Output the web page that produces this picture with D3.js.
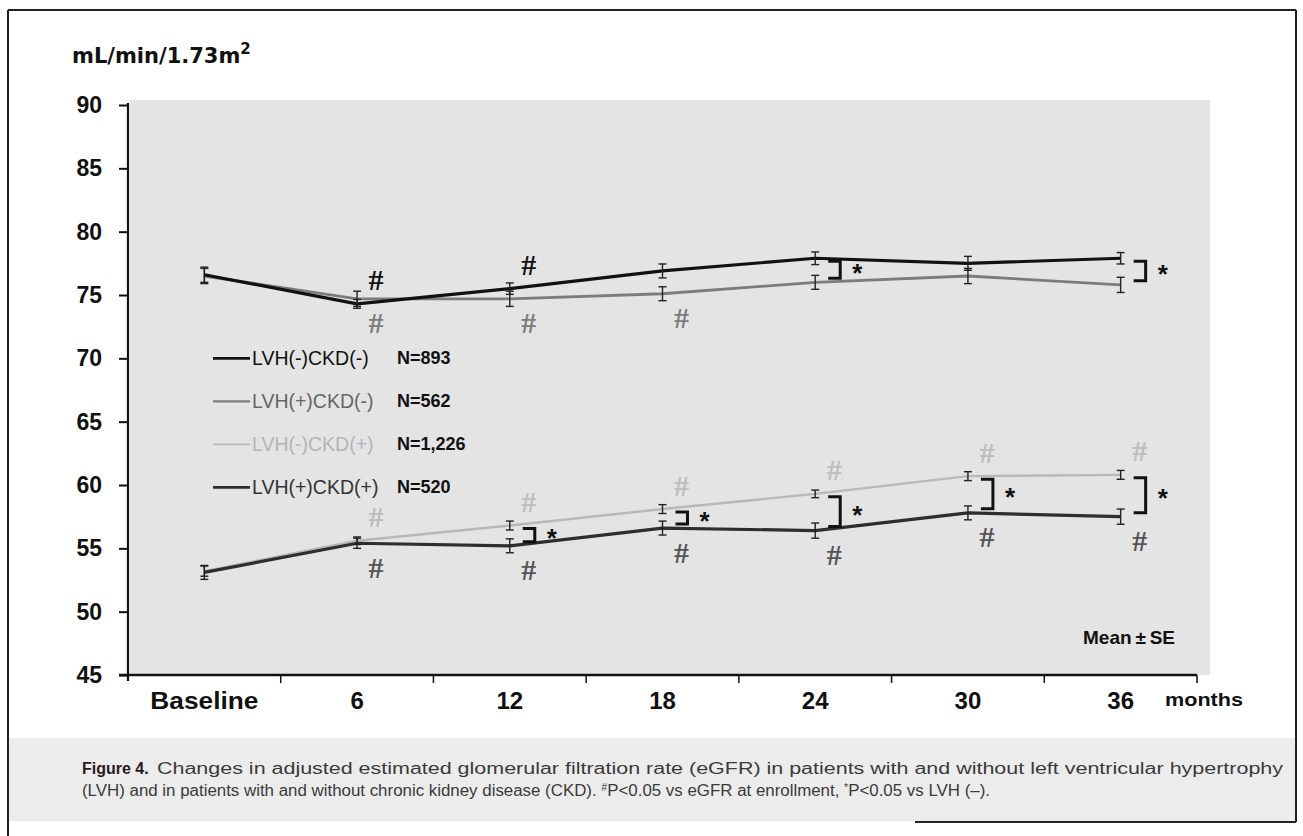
<!DOCTYPE html>
<html lang="en">
<head>
    <meta charset="UTF-8" />
    <title>eGFR changes by LVH / CKD</title>
    <style>
        body { margin: 0; background: #fff; }
        svg { display: block; }
        text { font-family: "Liberation Sans", Arial, sans-serif; }
    </style>
</head>
<body>
    <svg></svg>
    <script src="https://d3js.org/d3.v7.min.js"></script>
    <script>
        // ---- data ----
        const categories = ["Baseline", "6", "12", "18", "24", "30", "36"];

        const lvhNegCkdNeg = [76.6, 74.3, 75.5, 76.9, 77.9, 77.5, 77.9];
        const lvhNegCkdNegSE = [0.6, 0.35, 0.45, 0.55, 0.5, 0.55, 0.45];

        const lvhPosCkdNeg = [76.5, 74.7, 74.7, 75.1, 76.0, 76.5, 75.8];
        const lvhPosCkdNegSE = [0.6, 0.6, 0.6, 0.55, 0.55, 0.6, 0.6];

        const lvhNegCkdPos = [53.2, 55.6, 56.8, 58.1, 59.3, 60.7, 60.8];
        const lvhNegCkdPosSE = [0.4, 0.3, 0.35, 0.35, 0.3, 0.35, 0.35];

        const lvhPosCkdPos = [53.1, 55.4, 55.2, 56.6, 56.4, 57.8, 57.5];
        const lvhPosCkdPosSE = [0.55, 0.4, 0.55, 0.55, 0.6, 0.55, 0.6];

        const legendLabels = ["LVH(-)CKD(-)", "LVH(+)CKD(-)", "LVH(-)CKD(+)", "LVH(+)CKD(+)"];
        const legendN = ["N=893", "N=562", "N=1,226", "N=520"];

        const yTicks = [45, 50, 55, 60, 65, 70, 75, 80, 85, 90];

        // # marks: which points carry a "#" and on which side of the line
        const hashIdx = [[1, 2], [1, 2, 3], [1, 2, 3, 4, 5, 6], [1, 2, 3, 4, 5, 6]];
        const hashSide = [-1, 1, -1, 1];
        // * brackets between the paired series
        const starsUpper = [4, 6];
        const starsLower = [2, 3, 4, 5, 6];

        const series = [
            { name: legendLabels[0], values: lvhNegCkdNeg, se: lvhNegCkdNegSE, color: "#111", width: 3.2, hash: "#111", text: "#111" },
            { name: legendLabels[1], values: lvhPosCkdNeg, se: lvhPosCkdNegSE, color: "#7c7c7c", width: 2.8, hash: "#7c7c7c", text: "#666" },
            { name: legendLabels[2], values: lvhNegCkdPos, se: lvhNegCkdPosSE, color: "#b8b8b8", width: 2.4, hash: "#bdbdbd", text: "#b5b5b5" },
            { name: legendLabels[3], values: lvhPosCkdPos, se: lvhPosCkdPosSE, color: "#2e2e2e", width: 3.2, hash: "#555", text: "#333" }
        ];

        const width = 1303, height = 836;
        const svg = d3.select("svg").attr("width", width).attr("height", height);

        // frame + backgrounds
        svg.append("rect").attr("x", 130).attr("y", 100).attr("width", 1080).attr("height", 575).attr("fill", "#e4e4e4");
        svg.append("rect").attr("x", 9).attr("y", 738).attr("width", 1286).attr("height", 83).attr("fill", "#ececec");

        const frame = svg.append("g").attr("stroke", "#222").attr("stroke-width", 2);
        frame.append("line").attr("x1", 8).attr("x2", 8).attr("y1", 10).attr("y2", 836);
        frame.append("line").attr("x1", 8).attr("x2", 1296).attr("y1", 10).attr("y2", 10);
        frame.append("line").attr("x1", 1296).attr("x2", 1296).attr("y1", 10).attr("y2", 822);
        frame.append("line").attr("x1", 915).attr("x2", 1296).attr("y1", 822).attr("y2", 822);

        // scales
        const x = d3.scaleBand().domain(categories).range([128, 1197]).padding(0);
        const cx = c => x(c) + x.bandwidth() / 2;
        const y = d3.scaleLinear().domain([45, 90]).range([675, 105]);

        // y axis
        const yAxis = svg.append("g")
            .attr("transform", "translate(128,0)")
            .call(d3.axisLeft(y).tickValues(yTicks).tickSize(9).tickSizeOuter(0).tickPadding(17));
        yAxis.select(".domain").attr("stroke", "#111").attr("stroke-width", 2.2).attr("d", "M0,103V681");
        yAxis.selectAll(".tick line").attr("stroke", "#111").attr("stroke-width", 2);
        yAxis.selectAll(".tick text")
            .attr("fill", "#111")
            .style("font-size", "23px").style("font-weight", "bold")
            .style("font-family", "'Liberation Sans', Arial, sans-serif");

        // x axis: labels centred, ticks on category boundaries
        const xAxis = svg.append("g")
            .attr("transform", "translate(0,675)")
            .call(d3.axisBottom(x).tickSize(0).tickPadding(17));
        xAxis.select(".domain").attr("stroke", "#111").attr("stroke-width", 2.5).attr("d", "M119,0H1197");
        xAxis.selectAll(".tick text")
            .attr("fill", "#111")
            .style("font-size", "24px").style("font-weight", "bold")
            .style("font-family", "'Liberation Sans', Arial, sans-serif");
        xAxis.selectAll(".tick text").filter(d => d === "Baseline").attr("textLength", 108).attr("lengthAdjust", "spacingAndGlyphs");
        svg.append("g").selectAll("line")
            .data(categories.slice(1).concat(["end"]))
            .join("line")
            .attr("x1", d => d === "end" ? x.range()[1] : x(d))
            .attr("x2", d => d === "end" ? x.range()[1] : x(d))
            .attr("y1", 675).attr("y2", 683)
            .attr("stroke", "#111").attr("stroke-width", 1.5);

        svg.append("text").attr("x", 1204).attr("y", 706).attr("text-anchor", "middle")
            .attr("textLength", 78).attr("lengthAdjust", "spacingAndGlyphs")
            .style("font-size", "19px").style("font-weight", "bold").attr("fill", "#111").text("months");

        // unit label
        const unit = svg.append("text").attr("x", 72).attr("y", 63)
            .style("font-family", "'DejaVu Sans', sans-serif")
            .style("font-size", "21px").style("font-weight", "bold").attr("fill", "#111");
        unit.append("tspan").text("mL/min/1.73m");
        unit.append("tspan").attr("dy", -9).style("font-size", "15px").text("2");

        // lines
        const line = d3.line().x((d, i) => cx(categories[i])).y(d => y(d));
        const drawOrder = [2, 1, 3, 0];
        drawOrder.forEach(k => {
            const s = series[k];
            svg.append("path")
                .attr("d", line(s.values))
                .attr("fill", "none")
                .attr("stroke", s.color)
                .attr("stroke-width", s.width)
                .attr("stroke-linejoin", "round");
        });

        // error bars
        series.forEach(s => {
            const g = svg.append("g").attr("stroke", "#222").attr("stroke-width", 1.4);
            s.values.forEach((v, i) => {
                const px = cx(categories[i]);
                const y0 = y(v + s.se[i]), y1 = y(v - s.se[i]);
                g.append("line").attr("x1", px).attr("x2", px).attr("y1", y0).attr("y2", y1);
                g.append("line").attr("x1", px - 4).attr("x2", px + 4).attr("y1", y0).attr("y2", y0);
                g.append("line").attr("x1", px - 4).attr("x2", px + 4).attr("y1", y1).attr("y2", y1);
            });
        });

        // # marks
        series.forEach((s, k) => {
            hashIdx[k].forEach(i => {
                const px = cx(categories[i]) + 19;
                const py = y(s.values[i]) + hashSide[k] * 24;
                svg.append("text")
                    .attr("x", px).attr("y", py)
                    .attr("text-anchor", "middle").attr("dominant-baseline", "central")
                    .style("font-family", "'Liberation Serif', 'Times New Roman', serif")
                    .style("font-size", "30px").style("font-weight", "bold")
                    .attr("fill", s.hash)
                    .text("#");
            });
        });

        // * brackets
        function bracket(hi, lo, i) {
            const px = cx(categories[i]);
            const top = y(hi.values[i]) + 3;
            const bot = y(lo.values[i]) - 4;
            const x0 = px + 13, x1 = px + 25;
            svg.append("path")
                .attr("d", `M${x0},${top}H${x1}V${bot}H${x0}`)
                .attr("fill", "none").attr("stroke", "#111").attr("stroke-width", 3);
            svg.append("text")
                .attr("x", x1 + 12).attr("y", (top + bot) / 2 + 12)
                .style("font-size", "26px").style("font-weight", "bold")
                .attr("fill", "#111").text("*");
        }
        starsUpper.forEach(i => bracket(series[0], series[1], i));
        starsLower.forEach(i => bracket(series[2], series[3], i));

        // legend
        const legend = svg.append("g");
        series.forEach((s, k) => {
            const ly = y(70) + k * 43;
            legend.append("line").attr("x1", 213).attr("x2", 250).attr("y1", ly).attr("y2", ly)
                .attr("stroke", s.color).attr("stroke-width", s.width - 0.6);
            legend.append("text").attr("x", 252).attr("y", ly + 7)
                .style("font-size", "19.5px").attr("fill", s.text).text(s.name);
            legend.append("text").attr("x", 397).attr("y", ly + 6)
                .style("font-size", "18px").style("font-weight", "bold").attr("fill", "#111").text(legendN[k]);
        });

        // Mean ± SE
        svg.append("text").attr("x", 1175).attr("y", 644).attr("text-anchor", "end")
            .style("font-size", "19px").style("font-weight", "bold").attr("fill", "#111")
            .text("Mean\u2009\u00b1\u2009SE");

        // caption
        const cap = svg.append("g").attr("fill", "#3a3a3a");
        cap.append("text").attr("x", 82).attr("y", 774)
            .style("font-family", "'Liberation Sans Narrow', 'Liberation Sans', Arial, sans-serif")
            .style("font-size", "16px").style("font-weight", "bold").attr("fill", "#2a1a1a")
            .text("Figure 4.");
        cap.append("text").attr("x", 157).attr("y", 774)
            .attr("textLength", 1126).attr("lengthAdjust", "spacingAndGlyphs")
            .style("font-size", "16px")
            .text("Changes in adjusted estimated glomerular filtration rate (eGFR) in patients with and without left ventricular hypertrophy");
        const l2 = cap.append("text").attr("x", 82).attr("y", 796)
            .attr("textLength", 908).attr("lengthAdjust", "spacingAndGlyphs")
            .style("font-size", "16px");
        l2.append("tspan").text("(LVH) and in patients with and without chronic kidney disease (CKD). ");
        l2.append("tspan").attr("dy", -5).style("font-size", "10px").text("#");
        l2.append("tspan").attr("dy", 5).text("P<0.05 vs eGFR at enrollment, ");
        l2.append("tspan").attr("dy", -5).style("font-size", "10px").text("*");
        l2.append("tspan").attr("dy", 5).text("P<0.05 vs LVH (\u2013).");
    </script>
</body>
</html>
